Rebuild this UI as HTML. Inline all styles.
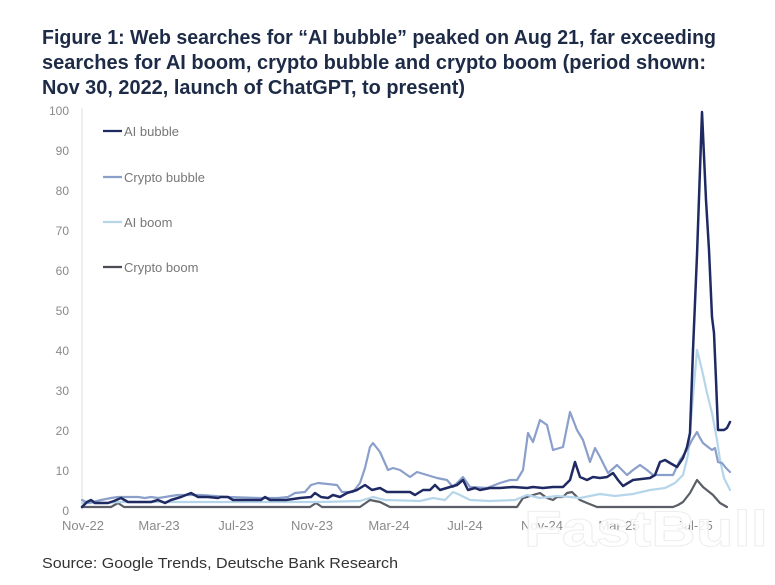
<!DOCTYPE html>
<html>
<head>
<meta charset="utf-8">
<style>
  html,body{margin:0;padding:0;background:#ffffff;}
  svg{display:block;}
</style>
</head>
<body>
<svg width="775" height="585" viewBox="0 0 775 585" xmlns="http://www.w3.org/2000/svg">
  <rect width="775" height="585" fill="#ffffff"/>

  <!-- Title -->
  <g font-family="'Liberation Sans', sans-serif" font-weight="bold" font-size="20" fill="#1e2b47">
    <text x="42" y="44" textLength="674" lengthAdjust="spacingAndGlyphs">Figure 1: Web searches for “AI bubble” peaked on Aug 21, far exceeding</text>
    <text x="42" y="69" textLength="664" lengthAdjust="spacingAndGlyphs">searches for AI boom, crypto bubble and crypto boom (period shown:</text>
    <text x="42" y="94" textLength="423" lengthAdjust="spacingAndGlyphs">Nov 30, 2022, launch of ChatGPT, to present)</text>
  </g>

  <!-- Y axis line -->
  <line x1="82" y1="108" x2="82" y2="510" stroke="#e6e8ec" stroke-width="1.5"/>

  <!-- Y labels -->
  <g font-family="'Liberation Sans', sans-serif" font-size="12" fill="#8a8a8a" text-anchor="end">
    <text x="69" y="115">100</text>
    <text x="69" y="155">90</text>
    <text x="69" y="195">80</text>
    <text x="69" y="235">70</text>
    <text x="69" y="275">60</text>
    <text x="69" y="315">50</text>
    <text x="69" y="355">40</text>
    <text x="69" y="395">30</text>
    <text x="69" y="435">20</text>
    <text x="69" y="475">10</text>
    <text x="69" y="515">0</text>
  </g>

  <!-- X labels -->
  <g font-family="'Liberation Sans', sans-serif" font-size="13" fill="#8a8a8a" text-anchor="middle">
    <text x="83" y="530">Nov-22</text>
    <text x="159" y="530">Mar-23</text>
    <text x="236" y="530">Jul-23</text>
    <text x="312" y="530">Nov-23</text>
    <text x="389" y="530">Mar-24</text>
    <text x="465" y="530">Jul-24</text>
    <text x="542" y="530">Nov-24</text>
    <text x="619" y="530">Mar-25</text>
    <text x="695" y="530">Jul-25</text>
  </g>

  <!-- Series -->
  <g fill="none" stroke-linejoin="round" stroke-linecap="round">
    <!-- Crypto boom -->
    <polyline stroke="#5a5e66" stroke-width="2.2" points="82,507 111,507 118,503 124,507 310,507 316,503 322,507 360,507 370,500 380,502 390,507 517,507 523,498 527,497 533,495 540,493 547,498 553,500 557,497 563,497 567,493 572,492 580,500 587,503 597,507 673,507 678,505 683,502 690,493 697,480 703,487 713,495 720,503 727,507"/>
    <!-- AI boom -->
    <polyline stroke="#b5d6ea" stroke-width="2.2" points="82,503 100,503 121,502 200,502 290,502 320,502 360,501 373,497 385,500 420,501 433,498 445,500 453,492 460,495 470,500 490,501 515,500 527,495 540,498 557,496 570,497 580,498 600,494 615,496 633,494 650,490 665,488 675,483 683,475 688,455 693,397 697,350 702,370 707,393 712,413 717,440 720,460 724,478 730,490"/>
    <!-- Crypto bubble -->
    <polyline stroke="#8b9fcb" stroke-width="2.2" points="82,500 88,503 93,502 101,500 111,498 118,497 138,497 145,498 151,497 158,498 165,497 171,496 178,495 201,495 228,497 260,498 278,498 288,497 295,493 305,492 311,485 318,483 337,485 342,492 353,492 360,483 365,468 370,447 373,443 380,452 388,470 393,468 400,470 410,477 417,472 427,475 437,478 447,480 453,487 463,477 470,487 487,488 500,483 510,480 517,480 523,470 528,433 533,442 540,420 547,425 553,450 563,447 570,412 577,430 583,440 590,462 595,448 600,457 608,473 617,465 627,475 633,470 640,465 647,470 653,475 673,475 680,460 687,450 692,440 697,432 700,438 703,443 708,447 712,450 715,448 718,462 722,463 726,468 730,472"/>
    <!-- AI bubble -->
    <polyline stroke="#1f2a63" stroke-width="2.5" points="82,507 87,502 91,500 95,503 98,503 108,503 114,501 121,498 128,502 151,502 158,500 165,503 171,500 181,497 191,493 198,497 208,497 218,498 221,497 228,497 233,500 261,500 265,497 270,500 286,500 300,498 311,497 315,493 321,497 328,498 333,495 340,497 347,493 357,490 365,485 372,490 380,488 387,492 410,492 415,495 423,490 430,490 435,485 440,490 450,487 457,485 463,480 468,490 475,488 480,490 490,488 500,488 513,487 527,488 533,487 543,488 553,487 563,487 570,480 575,462 580,477 587,480 593,477 600,478 607,477 613,473 618,480 623,486 633,480 650,478 655,475 660,462 665,460 670,463 677,467 683,458 687,447 690,433 693,350 697,255 702,112 706,200 709,250 712,317 714,333 716,380 718,430 724,430 727,428 730,422"/>
  </g>

  <!-- Legend -->
  <g stroke-width="2.2">
    <line x1="103" y1="131" x2="122" y2="131" stroke="#1f2a63"/>
    <line x1="103" y1="177" x2="122" y2="177" stroke="#8b9fcb"/>
    <line x1="103" y1="222" x2="122" y2="222" stroke="#b5d6ea"/>
    <line x1="103" y1="267" x2="122" y2="267" stroke="#4a4d55"/>
  </g>
  <g font-family="'Liberation Sans', sans-serif" font-size="13" fill="#777777">
    <text x="124" y="136">AI bubble</text>
    <text x="124" y="182">Crypto bubble</text>
    <text x="124" y="227">AI boom</text>
    <text x="124" y="272">Crypto boom</text>
  </g>

  <!-- Watermark -->
  <text x="524" y="546" font-family="'Liberation Sans', sans-serif" font-weight="bold" font-size="50" textLength="244" lengthAdjust="spacingAndGlyphs" fill="#ffffff" fill-opacity="0.85" stroke="#eeeeee" stroke-width="1">FastBull</text>

  <!-- Source -->
  <text x="42" y="568" font-family="'Liberation Sans', sans-serif" font-size="15" fill="#333333" textLength="356" lengthAdjust="spacingAndGlyphs">Source: Google Trends, Deutsche Bank Research</text>
</svg>
</body>
</html>
